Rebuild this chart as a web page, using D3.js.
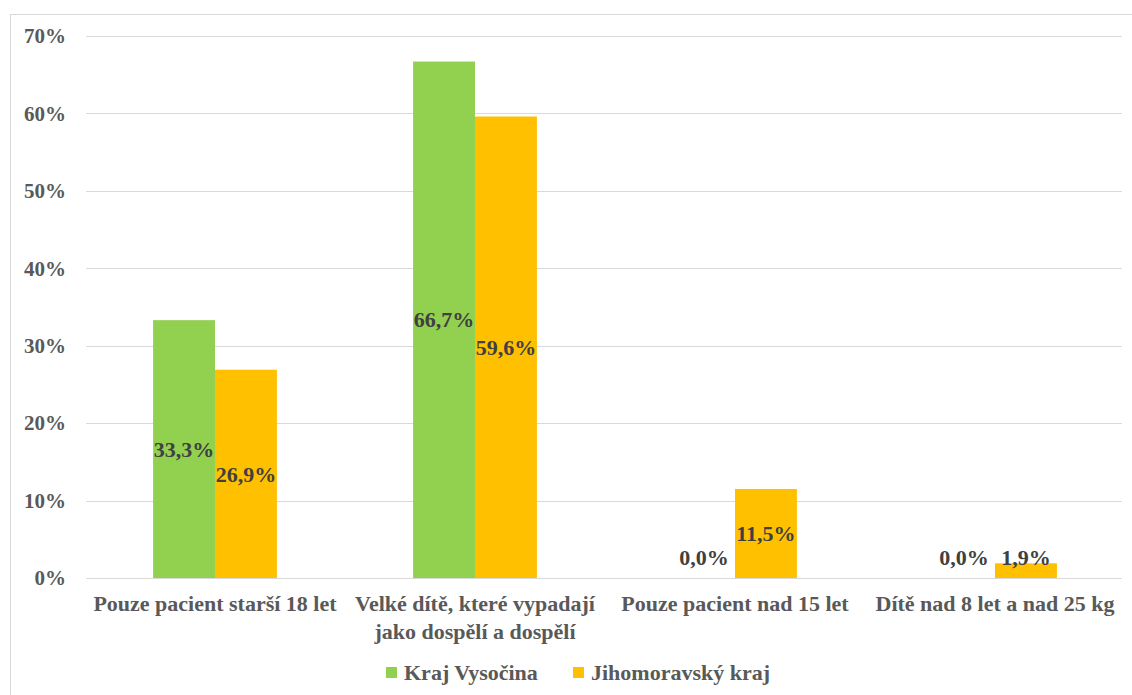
<!DOCTYPE html>
<html>
<head>
<meta charset="utf-8">
<script src="https://cdn.jsdelivr.net/npm/d3@7"></script>
<style>
  html, body { margin: 0; padding: 0; background: #fff; }
  svg { display: block; }
  text { font-family: "Liberation Serif", "Times New Roman", serif; font-weight: bold; }
</style>
</head>
<body>
<svg id="chart" width="1132" height="695"></svg>
<script>
const categories = [
  ["Pouze pacient starší 18 let"],
  ["Velké dítě, které vypadají", "jako dospělí a dospělí"],
  ["Pouze pacient nad 15 let"],
  ["Dítě nad 8 let a nad 25 kg"]
];
const seriesNames = ["Kraj Vysočina", "Jihomoravský kraj"];
const seriesColors = ["#92d050", "#ffc000"];
const vysocina = [33.3, 66.7, 0.0, 0.0];
const jihomoravsky = [26.9, 59.6, 11.5, 1.9];
const yTicks = [0, 10, 20, 30, 40, 50, 60, 70];

const svg = d3.select("#chart");
const margin = { left: 85 };

// outer border
svg.append("rect")
  .attr("x", 10.5).attr("y", 14.5)
  .attr("width", 1140).attr("height", 700)
  .attr("fill", "none").attr("stroke", "#d9d9d9").attr("stroke-width", 1);

const x0 = d3.scaleBand()
  .domain(d3.range(categories.length))
  .range([margin.left, 1125])
  .paddingInner(0).paddingOuter(0);

const x1 = d3.scaleBand()
  .domain([0, 1])
  .range([0, x0.bandwidth()])
  .paddingInner(0)
  .paddingOuter(1.1);

const y = d3.scaleLinear().domain([0, 70]).range([578, 36]);

// gridlines
svg.append("g").selectAll("line").data(yTicks).join("line")
  .attr("x1", 86).attr("x2", 1122)
  .attr("y1", d => Math.round(y(d)) + 0.5).attr("y2", d => Math.round(y(d)) + 0.5)
  .attr("stroke", "#d9d9d9").attr("stroke-width", 1.2);

// y tick labels
svg.append("g").selectAll("text").data(yTicks).join("text")
  .attr("x", 66).attr("y", d => y(d))
  .attr("dy", "0.35em")
  .attr("text-anchor", "end")
  .attr("fill", "#595959")
  .style("font-size", "21px")
  .text(d => d + "%");

const series = [vysocina, jihomoravsky];
const fmt = v => d3.format(".1f")(v).replace(".", ",") + "%";

const groups = svg.append("g").selectAll("g").data(categories).join("g")
  .attr("transform", (d, i) => `translate(${x0(i)},0)`);

groups.selectAll("rect").data((d, i) => series.map((s, k) => ({ k, v: s[i] })))
  .join("rect")
  .attr("x", d => x1(d.k))
  .attr("width", x1.bandwidth())
  .attr("y", d => y(d.v))
  .attr("height", d => y(0) - y(d.v))
  .attr("fill", d => seriesColors[d.k]);

groups.selectAll("text.lbl").data((d, i) => series.map((s, k) => ({ k, v: s[i] })))
  .join("text").attr("class", "lbl")
  .attr("x", d => x1(d.k) + x1.bandwidth() / 2)
  .attr("y", d => Math.min((y(d.v) + y(0)) / 2, y(0) - 21))
  .attr("dy", "0.35em")
  .attr("text-anchor", "middle")
  .attr("fill", "#404040")
  .style("font-size", "22px")
  .text(d => fmt(d.v));

// category labels
groups.append("text")
  .attr("x", x0.bandwidth() / 2)
  .attr("y", 611)
  .attr("text-anchor", "middle")
  .attr("fill", "#595959")
  .style("font-size", "22px")
  .selectAll("tspan").data(d => d).join("tspan")
  .attr("x", x0.bandwidth() / 2)
  .attr("dy", (d, i) => i === 0 ? 0 : 28)
  .text(d => d);

// legend
const legend = svg.append("g");
const legendX = [386, 573];
seriesNames.forEach((name, k) => {
  legend.append("rect")
    .attr("x", legendX[k]).attr("y", 667)
    .attr("width", 11).attr("height", 11)
    .attr("fill", seriesColors[k]);
  legend.append("text")
    .attr("x", legendX[k] + 18).attr("y", 672)
    .attr("dy", "0.35em")
    .attr("fill", "#595959")
    .style("font-size", "22px")
    .text(name);
});
</script>
</body>
</html>
